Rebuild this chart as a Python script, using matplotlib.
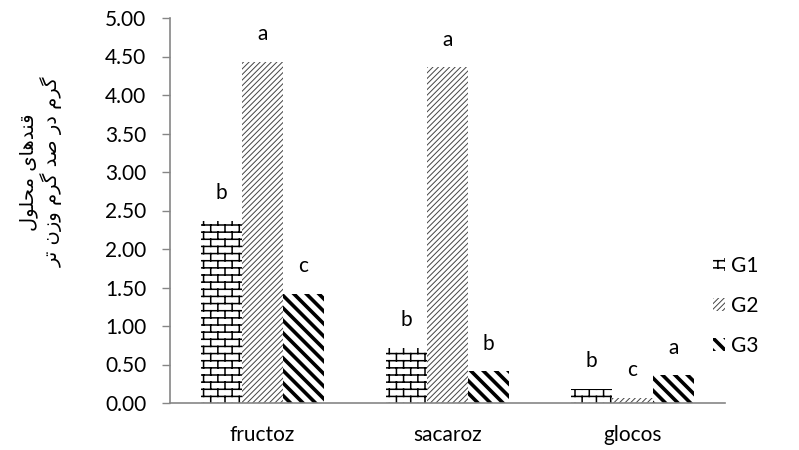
import warnings
warnings.filterwarnings('ignore')
import numpy as np
import matplotlib
matplotlib.use('Agg')
import matplotlib.pyplot as plt
import matplotlib.hatch as mhatch
from matplotlib.path import Path

# ---------------- data ----------------
categories = ['fructoz', 'sacaroz', 'glocos']
series_names = ['G1', 'G2', 'G3']
g1_values = [2.37, 0.72, 0.18]
g2_values = [4.43, 4.36, 0.07]
g3_values = [1.42, 0.41, 0.36]
g1_letters = ['b', 'b', 'b']
g2_letters = ['a', 'a', 'c']
g3_letters = ['c', 'b', 'a']
y_ticks = [0.0, 0.5, 1.0, 1.5, 2.0, 2.5, 3.0, 3.5, 4.0, 4.5, 5.0]
ylabel_lines = ['قندهای محلول', 'گرم در صد گرم وزن تر']

# ---------------- Persian shaping (matplotlib has no shaping) ----------------
FORMS = {
    'ق': ('\uFED5', '\uFED6', '\uFED7', '\uFED8'),
    'ن': ('\uFEE5', '\uFEE6', '\uFEE7', '\uFEE8'),
    'د': ('\uFEA9', '\uFEAA'),
    'ه': ('\uFEE9', '\uFEEA', '\uFEEB', '\uFEEC'),
    'ا': ('\uFE8D', '\uFE8E'),
    'ی': ('\uFBFC', '\uFBFD', '\uFBFE', '\uFBFF'),
    'م': ('\uFEE1', '\uFEE2', '\uFEE3', '\uFEE4'),
    'ح': ('\uFEA1', '\uFEA2', '\uFEA3', '\uFEA4'),
    'ل': ('\uFEDD', '\uFEDE', '\uFEDF', '\uFEE0'),
    'و': ('\uFEED', '\uFEEE'),
    'گ': ('\uFB92', '\uFB93', '\uFB94', '\uFB95'),
    'ر': ('\uFEAD', '\uFEAE'),
    'ص': ('\uFEB9', '\uFEBA', '\uFEBB', '\uFEBC'),
    'ز': ('\uFEAF', '\uFEB0'),
    'ت': ('\uFE95', '\uFE96', '\uFE97', '\uFE98'),
}


def shape_rtl(text):
    out = []
    n = len(text)
    for i, ch in enumerate(text):
        if ch not in FORMS:
            out.append(ch)
            continue
        prev = text[i - 1] if i > 0 else ''
        nxt = text[i + 1] if i < n - 1 else ''
        jp = prev in FORMS and len(FORMS[prev]) == 4
        jn = nxt in FORMS and len(FORMS[ch]) == 4
        f = FORMS[ch]
        if jp and jn:
            out.append(f[3])
        elif jp:
            out.append(f[1])
        elif jn:
            out.append(f[2])
        else:
            out.append(f[0])
    return ''.join(reversed(out))


# ---------------- custom hatches ----------------
class BrickHatch(mhatch.HatchPatternBase):
    ROWS = 14
    COLS = 7

    def __init__(self, hatch, density):
        self.on = hatch.count('B') > 0
        R, C = self.ROWS, self.COLS
        self.num_vertices = (R + R * C + C) * 2 if self.on else 0

    def set_vertices_and_codes(self, vertices, codes):
        R, C = self.ROWS, self.COLS
        k = 0
        for i in range(R):
            y = (i + 0.5) / R
            vertices[k] = (0.0, y)
            vertices[k + 1] = (1.0, y)
            k += 2
        for i in range(R):
            y0 = (i + 0.5) / R
            y1 = min((i + 1.5) / R, 1.0)
            off = 0.5 * (i % 2)
            for j in range(C):
                xx = (j + off + 0.25) / C
                vertices[k] = (xx, y0)
                vertices[k + 1] = (xx, y1)
                k += 2
        off = 0.5 * ((R - 1) % 2)
        for j in range(C):
            xx = (j + off + 0.25) / C
            vertices[k] = (xx, 0.0)
            vertices[k + 1] = (xx, 0.5 / R)
            k += 2
        codes[0::2] = Path.MOVETO
        codes[1::2] = Path.LINETO


class WideSouthEast(mhatch.HatchPatternBase):
    def __init__(self, hatch, density):
        self.num_lines = 16 * hatch.count('S')
        self.num_vertices = (self.num_lines + 1) * 2 if self.num_lines else 0

    def set_vertices_and_codes(self, vertices, codes):
        steps = np.linspace(-0.5, 0.5, self.num_lines + 1)
        vertices[0::2, 0] = 0.0 + steps
        vertices[0::2, 1] = 1.0 + steps
        vertices[1::2, 0] = 1.0 + steps
        vertices[1::2, 1] = 0.0 + steps
        codes[0::2] = Path.MOVETO
        codes[1::2] = Path.LINETO


mhatch._hatch_types.append(BrickHatch)
mhatch._hatch_types.append(WideSouthEast)

# ---------------- figure ----------------
plt.rcParams['font.family'] = ['Lato', 'DejaVu Sans']
FS = 15
fig = plt.figure(figsize=(7.99, 4.5), dpi=100)
ax = fig.add_axes([170 / 799, 47 / 450, 555 / 799, 385 / 450])

x = np.arange(len(categories))
width = 0.222
offsets = [-width, 0.0, width]
styles = [
    dict(hatch='B', color='black', hlw=1.1),
    dict(hatch='//////', color='#444444', hlw=0.7),
    dict(hatch='S', color='black', hlw=2.6),
]
all_values = [g1_values, g2_values, g3_values]
all_letters = [g1_letters, g2_letters, g3_letters]

handles = []
for vals, lets, off, st, name in zip(all_values, all_letters, offsets, styles, series_names):
    with plt.rc_context({'hatch.linewidth': st['hlw'], 'hatch.color': st['color']}):
        bars = ax.bar(x + off, vals, width, color='white', edgecolor=st['color'],
                      linewidth=0, hatch=st['hatch'], label=name)
    for b in bars:
        if hasattr(b, 'set_hatch_linewidth'):
            b.set_hatch_linewidth(st['hlw'])
    handles.append(bars)
    for xi, v, l in zip(x + off, vals, lets):
        ax.annotate(l, (xi, v), xytext=(0, 20), textcoords='offset points',
                    ha='center', va='center', fontsize=FS)

ax.set_xlim(-0.5, len(categories) - 0.5)
ax.set_ylim(0, 5)
ax.set_yticks(y_ticks)
ax.set_yticklabels([f'{t:.2f}' for t in y_ticks])
ax.set_xticks(x)
ax.set_xticklabels(categories)
ax.tick_params(axis='y', length=6, width=1, color='#868686', pad=11, labelsize=FS)
ax.tick_params(axis='x', length=0, pad=16, labelsize=FS)
for s in ['top', 'right']:
    ax.spines[s].set_visible(False)
for s in ['left', 'bottom']:
    ax.spines[s].set_color('#868686')
    ax.spines[s].set_linewidth(1.2)

leg = fig.legend(handles=handles, labels=series_names, loc='center left',
                 bbox_to_anchor=(694 / 799, 1 - 306 / 450), frameon=False,
                 handlelength=0.6, handleheight=0.6, handletextpad=0.3,
                 labelspacing=0.95, fontsize=FS)
for h, st in zip(leg.legend_handles, styles):
    if hasattr(h, 'set_hatch_linewidth'):
        h.set_hatch_linewidth(st['hlw'])

ylabel = '\n'.join(shape_rtl(l) for l in ylabel_lines)
fig.text(41 / 799, 1 - 172 / 450, ylabel, rotation=90, ha='center', va='center',
         multialignment='center', fontsize=14, family=['DejaVu Sans'],
         linespacing=1.2)

fig.savefig('out.png', dpi=100)
